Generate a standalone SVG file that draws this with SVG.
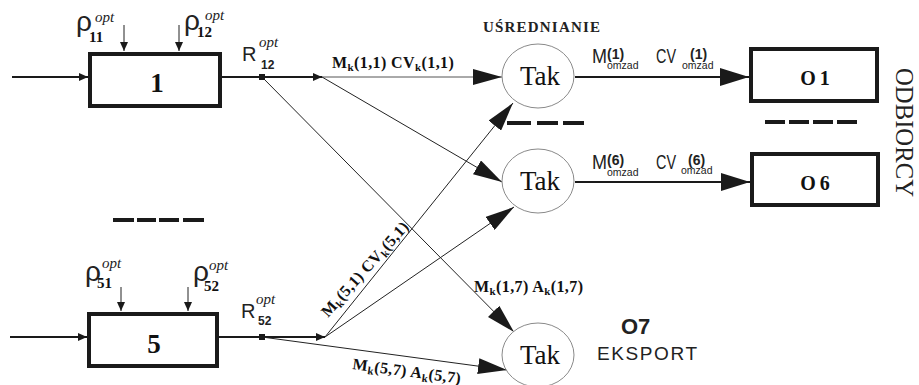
<svg xmlns="http://www.w3.org/2000/svg" width="919" height="385" viewBox="0 0 919 385">
  <style>
    .ln { stroke:#222; stroke-width:1; fill:none; }
    .lng { stroke:#555; stroke-width:1; fill:none; }
    .thk { stroke:#1a1a1a; stroke-width:2; fill:none; }
    .box { fill:#fff; stroke:#1a1a1a; stroke-width:4; }
    .node { fill:#fff; stroke:#8a8a8a; stroke-width:1; }
    .dash { fill:#1a1a1a; }
    .tak { font-family:"Liberation Serif", serif; font-size:27px; text-anchor:middle; fill:#111; }
    .num { font-family:"Liberation Serif", serif; font-weight:bold; font-size:27px; text-anchor:middle; fill:#111; }
    .onum { font-family:"Liberation Serif", serif; font-weight:bold; font-size:20px; text-anchor:middle; fill:#111; letter-spacing:4px; }
    .lbl { font-family:"Liberation Serif", serif; font-weight:bold; font-size:16px; fill:#111; letter-spacing:0.4px; }
    .ks { font-size:11px; }
    .rho { font-family:"Liberation Sans", sans-serif; font-size:28px; fill:#222; }
    .rsub { font-family:"Liberation Serif", serif; font-weight:bold; font-size:15px; fill:#111; }
    .opt { font-family:"Liberation Serif", serif; font-style:italic; font-size:15px; fill:#222; }
    .R { font-family:"Liberation Sans", sans-serif; font-size:20px; fill:#222; }
    .Rsub { font-family:"Liberation Sans", sans-serif; font-weight:bold; font-size:12px; fill:#222; }
    .out { font-family:"Liberation Sans", sans-serif; font-size:21px; fill:#222; }
    .outb { font-family:"Liberation Sans", sans-serif; font-weight:bold; font-size:14px; fill:#222; }
    .oz { font-family:"Liberation Sans", sans-serif; font-size:10.5px; fill:#222; }
    .head { font-family:"Liberation Serif", serif; font-weight:bold; font-size:15px; fill:#222; }
    .side { font-family:"Liberation Serif", serif; font-size:26px; fill:#222; }
    .o7 { font-family:"Liberation Sans", sans-serif; font-weight:bold; font-size:22px; fill:#222; }
    .exp { font-family:"Liberation Sans", sans-serif; font-size:19px; fill:#222; }
  </style>
  <defs>
    <marker id="big" markerUnits="userSpaceOnUse" markerWidth="30" markerHeight="16" refX="29" refY="8" orient="auto">
      <path d="M0,0 L29,8 L0,16 z" fill="#1a1a1a"/>
    </marker>
    <marker id="bigw" markerUnits="userSpaceOnUse" markerWidth="30" markerHeight="18" refX="29" refY="9" orient="auto">
      <path d="M0,0 L29,9 L0,18 z" fill="#1a1a1a"/>
    </marker>
    <marker id="sm" markerUnits="userSpaceOnUse" markerWidth="10" markerHeight="8" refX="9" refY="4" orient="auto">
      <path d="M0,0 L9,4 L0,8 z" fill="#1a1a1a"/>
    </marker>
  </defs>

  <rect width="919" height="385" fill="#fff"/>

  <!-- connectors -->
  <g id="connectors">
    <!-- source 1 -->
    <line class="thk" x1="12" y1="77" x2="88" y2="77" marker-end="url(#sm)"/>
    <line class="ln" x1="124" y1="25" x2="124" y2="51" marker-end="url(#sm)"/>
    <line class="ln" x1="179" y1="25" x2="179" y2="51" marker-end="url(#sm)"/>
    <line class="thk" x1="222" y1="77" x2="322" y2="77" marker-end="url(#sm)"/>
    <line class="lng" x1="322" y1="77" x2="502" y2="77" marker-end="url(#big)"/>
    <line class="ln" x1="322" y1="77" x2="502" y2="182" marker-end="url(#big)"/>
    <line class="ln" x1="262" y1="77" x2="514" y2="332" marker-end="url(#big)"/>
    <!-- source 5 -->
    <line class="thk" x1="10" y1="337" x2="87" y2="337" marker-end="url(#sm)"/>
    <line class="ln" x1="121" y1="287" x2="121" y2="311" marker-end="url(#sm)"/>
    <line class="ln" x1="188" y1="287" x2="188" y2="311" marker-end="url(#sm)"/>
    <line class="thk" x1="219" y1="337" x2="325" y2="337" marker-end="url(#sm)"/>
    <line class="ln" x1="325" y1="337" x2="513" y2="103" marker-end="url(#big)"/>
    <line class="ln" x1="325" y1="337" x2="514" y2="207" marker-end="url(#big)"/>
    <line class="ln" x1="262" y1="337" x2="507" y2="370" marker-end="url(#big)"/>
    <!-- averaging to receivers -->
    <line class="thk" x1="575" y1="77" x2="749" y2="77" marker-end="url(#bigw)"/>
    <line class="thk" x1="575" y1="182" x2="750" y2="182" marker-end="url(#bigw)"/>
    <!-- junction dots -->
    <rect x="259" y="74" width="6" height="6" fill="#1a1a1a"/>
    <rect x="259" y="334" width="6" height="6" fill="#1a1a1a"/>
  </g>

  <!-- source nodes -->
  <g id="src1">
    <rect class="box" x="90" y="54" width="130" height="52"/>
    <text class="num" x="157" y="92">1</text>
    <text class="rho" x="76" y="31">ρ</text>
    <text class="rsub" x="89" y="42">11</text>
    <text class="opt" x="95" y="22">opt</text>
    <text class="rho" x="184" y="30">ρ</text>
    <text class="rsub" x="197" y="37">12</text>
    <text class="opt" x="205" y="20">opt</text>
    <text class="R" x="242" y="61">R</text>
    <text class="opt" x="259" y="47">opt</text>
    <text class="Rsub" x="261" y="69">12</text>
  </g>

  <g id="src5">
    <rect class="box" x="89" y="314" width="128" height="52"/>
    <text class="num" x="154" y="353">5</text>
    <text class="rho" x="85" y="281">ρ</text>
    <text class="rsub" x="97" y="288">51</text>
    <text class="opt" x="102" y="268">opt</text>
    <text class="rho" x="193" y="281">ρ</text>
    <text class="rsub" x="204" y="291">52</text>
    <text class="opt" x="209" y="270">opt</text>
    <text class="R" x="241" y="318">R</text>
    <text class="opt" x="256" y="304">opt</text>
    <text class="Rsub" x="258" y="325">52</text>
  </g>

  <!-- gap markers -->
  <g id="gaps">
    <rect class="dash" x="113" y="218" width="21" height="4"/>
    <rect class="dash" x="137" y="218" width="19" height="4"/>
    <rect class="dash" x="159" y="218" width="20" height="4"/>
    <rect class="dash" x="183" y="218" width="21" height="4"/>
    <rect class="dash" x="507" y="121" width="24" height="4"/>
    <rect class="dash" x="537" y="121" width="21" height="4"/>
    <rect class="dash" x="563" y="121" width="21" height="4"/>
    <rect class="dash" x="765" y="120" width="20" height="4"/>
    <rect class="dash" x="789" y="120" width="20" height="4"/>
    <rect class="dash" x="813" y="120" width="20" height="4"/>
    <rect class="dash" x="837" y="120" width="20" height="4"/>
  </g>

  <!-- averaging nodes -->
  <g id="avg1">
    <ellipse class="node" cx="538" cy="76" rx="36" ry="32"/>
    <text class="tak" x="540" y="85">Tak</text>
  </g>
  <g id="avg6">
    <ellipse class="node" cx="538" cy="181" rx="36" ry="32"/>
    <text class="tak" x="540" y="190">Tak</text>
  </g>
  <g id="avg7">
    <ellipse class="node" cx="538" cy="355" rx="36" ry="32"/>
    <text class="tak" x="540" y="364">Tak</text>
  </g>
  <text class="head" x="483" y="32" textLength="117">UŚREDNIANIE</text>

  <!-- receivers -->
  <g id="o1">
    <rect class="box" x="751" y="49" width="126" height="52"/>
    <text class="onum" x="817" y="85">O1</text>
  </g>
  <g id="o6">
    <rect class="box" x="752" y="154" width="126" height="51"/>
    <text class="onum" x="817" y="190">O6</text>
  </g>
  <text class="side" transform="translate(896,68) rotate(90)" textLength="129" lengthAdjust="spacingAndGlyphs">ODBIORCY</text>

  <g id="o7">
    <text class="o7" x="621" y="334">O7</text>
    <text class="exp" x="597" y="360" textLength="100">EKSPORT</text>
  </g>

  <!-- flow labels -->
  <text class="lbl" x="332" y="68">M<tspan class="ks" dy="3">k</tspan><tspan dy="-3">(1,1) CV</tspan><tspan class="ks" dy="3">k</tspan><tspan dy="-3">(1,1)</tspan></text>
  <text class="lbl" x="474" y="292">M<tspan class="ks" dy="3">k</tspan><tspan dy="-3">(1,7) A</tspan><tspan class="ks" dy="3">k</tspan><tspan dy="-3">(1,7)</tspan></text>
  <text class="lbl" transform="translate(352,369) rotate(7.7)">M<tspan class="ks" dy="3">k</tspan><tspan dy="-3">(5,7) A</tspan><tspan class="ks" dy="3">k</tspan><tspan dy="-3">(5,7)</tspan></text>
  <text class="lbl" transform="translate(328,318) rotate(-48)">M<tspan class="ks" dy="3">k</tspan><tspan dy="-3">(5,1) CV</tspan><tspan class="ks" dy="3">k</tspan><tspan dy="-3">(5,1)</tspan></text>

  <!-- output labels -->
  <g id="outlabels">
    <text class="out" x="592" y="63" textLength="15" lengthAdjust="spacingAndGlyphs">M</text>
    <text class="outb" x="607" y="59">(1)</text>
    <text class="oz" x="607" y="69">omzad</text>
    <text class="out" x="656" y="63" textLength="20" lengthAdjust="spacingAndGlyphs">CV</text>
    <text class="outb" x="690" y="59">(1)</text>
    <text class="oz" x="682" y="69">omzad</text>

    <text class="out" x="592" y="169" textLength="15" lengthAdjust="spacingAndGlyphs">M</text>
    <text class="outb" x="607" y="165">(6)</text>
    <text class="oz" x="607" y="176">omzad</text>
    <text class="out" x="656" y="169" textLength="20" lengthAdjust="spacingAndGlyphs">CV</text>
    <text class="outb" x="688" y="165">(6)</text>
    <text class="oz" x="681" y="174">omzad</text>
  </g>
</svg>
